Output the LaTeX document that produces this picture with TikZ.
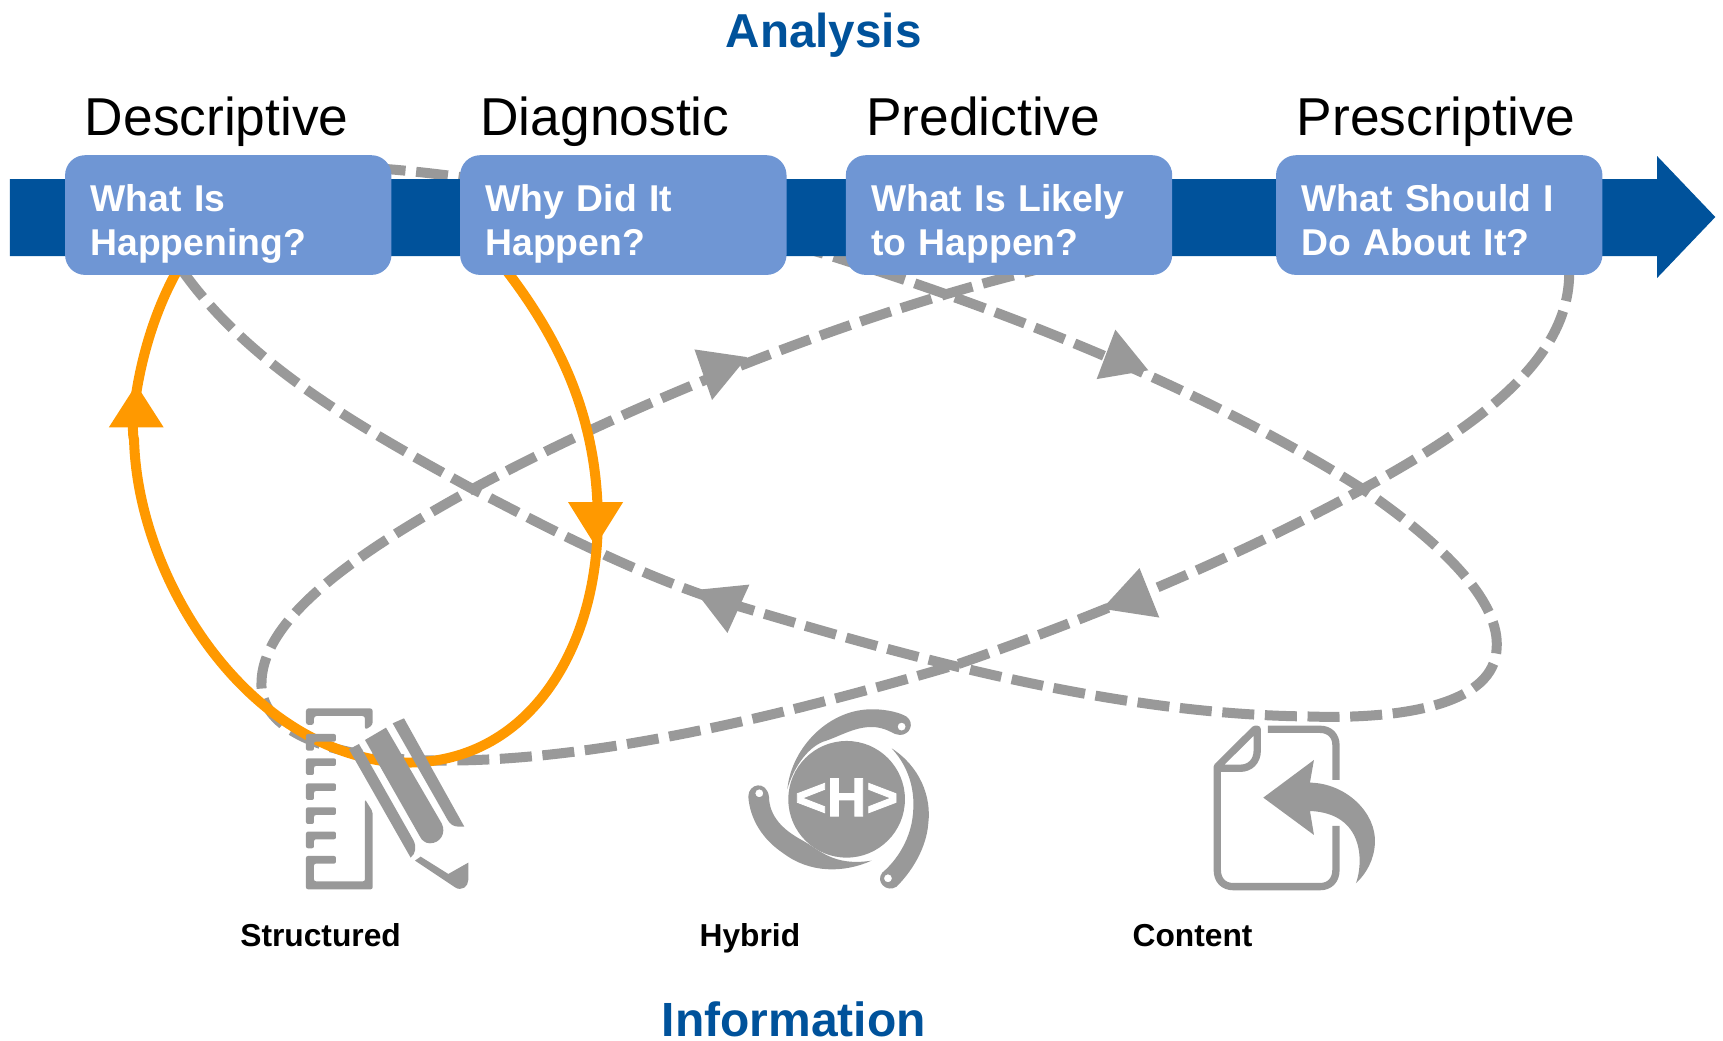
\documentclass[tikz,border=0pt]{standalone}
\usepackage{fontspec}
\setmainfont{Liberation Sans}
\newfontfamily\boxfont{Liberation Sans}[WordSpace=0.75]
\newfontfamily\codefont{Liberation Sans}[BoldFeatures={FakeBold=1.5}]
\pgfdeclarelayer{back}
\pgfdeclarelayer{barlayer}
\pgfsetlayers{back,barlayer,main}
\definecolor{barblue}{RGB}{0,82,155}
\definecolor{boxblue}{RGB}{111,150,212}
\definecolor{icongray}{RGB}{153,153,153}
\definecolor{flow}{RGB}{255,153,0}
\newcommand\tophold{\rule{0pt}{35.2pt}}
\newcommand\bothold{\rule[-8pt]{0pt}{8pt}}
\tikzset{
  qbox/.style={fill=boxblue,rounded corners=15pt,minimum width=244.8pt,minimum height=89.8pt,text width=244.8pt-2*19pt,inner xsep=19pt,inner ysep=0pt,align=left,text=white,font=\boxfont\fontsize{28}{33}\selectfont\bfseries,anchor=north west},
  head/.style={anchor=base west,inner sep=0pt,font=\fontsize{40}{40}\selectfont},
  title/.style={anchor=base,inner sep=0pt,text=barblue,font=\fontsize{35.7}{36}\selectfont\bfseries},
  kind/.style={anchor=base west,inner sep=0pt,font=\fontsize{23.8}{24}\selectfont\bfseries},
  grayflow/.style={draw=icongray,line width=7.5pt,dash pattern=on 24pt off 8pt},
  orangeflow/.style={draw=flow,line width=7.5pt},
  grayhead/.style={fill=icongray},
  orangehead/.style={fill=flow},
  icon/.style={fill=icongray},
  iconline/.style={draw=icongray,line width=5.5pt,line join=round},
}
\begin{document}
\begin{tikzpicture}[x=.8242pt,y=-.8242pt]
\useasboundingbox (0,0) rectangle (1568,947);
% boxes
\node[qbox] (q1) at (59,141) {\tophold What Is\\Happening?\bothold};
\node[qbox] (q2) at (418.5,141) {\tophold Why Did It\\Happen?\bothold};
\node[qbox] (q3) at (769.5,141) {\tophold What Is Likely\\to Happen?\bothold};
\node[qbox] (q4) at (1161,141) {\tophold What Should I\\Do About It?\bothold};
% headings
\node[title] (analysis) at (749.5,43) {Analysis};
\node[head] (h1) at (77,123) {Descriptive};
\node[head] (h2) at (437,123) {Diagnostic};
\node[head] (h3) at (788,123) {Predictive};
\node[head] (h4) at (1180,123) {Prescriptive};
\node[kind] (k1) at (218.5,861) {Structured};
\node[kind] (k2) at (636.5,861) {Hybrid};
\node[kind] (k3) at (1030.5,861) {Content};
\node[title,font=\fontsize{36}{36}\selectfont\bfseries] (information) at (722.5,943) {Information};
% bar
\begin{pgfonlayer}{barlayer}
\fill[barblue] (9,163) -- (1508,163) -- (1508,142) -- (1561,197.5) -- (1508,253) -- (1508,233) -- (9,233) -- cycle;
\end{pgfonlayer}
% connectors
\begin{pgfonlayer}{back}
\coordinate (a1) at (340,153);
\coordinate (a2) at (165,245);
\coordinate (a3) at (1428,245);
\coordinate (a4) at (945,245);
\coordinate (o1) at (162,245);
\coordinate (o2) at (460,245);
\draw[grayflow] (a1) .. controls (450,160) and (650,198) .. (772,238) .. controls (905,280) and (1090,350) .. (1240,445) .. controls (1320,500) and (1365,550) .. (1362,590) .. controls (1360,640) and (1280,655) .. (1190,652) .. controls (1000,650) and (800,590) .. (650,545) .. controls (560,515) and (470,465) .. (430,445) .. controls (320,385) and (225,330) .. (a2);
\draw[grayflow] (a3) .. controls (1430,320) and (1360,380) .. (1240,445) .. controls (1130,505) and (1000,560) .. (870,605) .. controls (700,655) and (530,695) .. (390,692) .. controls (300,690) and (235,665) .. (238,620) .. controls (240,560) and (330,500) .. (430,445) .. controls (560,375) and (760,290) .. (a4);
\draw[orangeflow] (o1) .. controls (125,310) and (118,390) .. (122,400) .. controls (125,520) and (215,670) .. (345,692) .. controls (470,710) and (545,600) .. (544,470) .. controls (543,380) and (510,310) .. (o2);
\fill[orangehead] (124,350) -- (149,389) -- (99,389) -- cycle;
\fill[orangehead] (542,497) -- (517,457) -- (567,457) -- cycle;
\fill[grayhead] (1045,337) -- (1015,300) -- (998,345) -- cycle;
\fill[grayhead] (680,325) -- (632,318) -- (648,364) -- cycle;
\fill[grayhead] (632,537) -- (682,532) -- (662,576) -- cycle;
\fill[grayhead] (1003,554) -- (1037,517) -- (1055,562) -- cycle;
\end{pgfonlayer}
% structured icon
\begin{scope}[shift={(254.8,627.9)},x=.25pt,y=-.25pt]
\fill[icon,rounded corners=2pt] (78,105) -- (78,55) -- (278,55) -- (278,105) -- (255,120) -- (255,78) -- (102,78) -- (102,105) -- cycle;
\foreach \yy in {132,205,280,352,425} {
  \fill[icon,rounded corners=1.5pt] (78,\yy) -- (168,\yy) -- (168,\yy+23) -- (102,\yy+23) -- (102,\yy+50) -- (78,\yy+50) -- cycle;
}
\fill[icon,rounded corners=1.5pt] (78,498) -- (168,498) -- (168,521) -- (102,521) -- (102,574) -- (255,574) -- (255,328) -- (278,365) -- (278,598) -- (78,598) -- cycle;
\fill[icon] (255,150) -- (318,113) -- (485,400) .. controls (500,430) and (480,460) .. (450,460) .. controls (435,460) and (425,450) .. (420,440) -- cycle;
\fill[icon] (338,100) -- (372,85) -- (553,410) -- (535,410) .. controls (520,410) and (510,402) .. (503,390) -- cycle;
\fill[icon] (207,178) -- (237,162) -- (400,450) .. controls (410,470) and (408,490) .. (392,503) -- cycle;
\fill[icon] (405,512) -- (422,500) -- (505,552) -- (565,518) -- (565,570) .. controls (565,590) and (545,605) .. (525,592) -- cycle;
\end{scope}
% hybrid icon
\begin{scope}[shift={(664.3,627.9)},x=.25pt,y=-.25pt]
\fill[icon] (350,328) circle[radius=175];
\node[text=white,inner sep=0pt,font=\codefont\fontsize{41}{41}\selectfont\bfseries] (hcode) at (350,322) {<H>};
\fill[icon,even odd rule] (172,298) .. controls (185,170) and (300,55) .. (430,58) .. controls (470,58) and (510,68) .. (530,80) .. controls (555,100) and (540,135) .. (510,135) .. controls (490,135) and (480,118) .. (440,112) .. controls (380,105) and (330,140) .. (280,155) .. controls (230,175) and (190,235) .. (172,298) -- cycle (515,110) circle[radius=12];
\fill[icon,even odd rule] (485,175) .. controls (570,230) and (605,320) .. (595,400) .. controls (590,470) and (550,540) .. (500,590) .. controls (470,610) and (435,575) .. (457,548) .. controls (490,520) and (530,470) .. (545,400) .. controls (560,320) and (545,240) .. (485,175) -- cycle (474,565) circle[radius=12];
\fill[icon,even odd rule] (425,512) .. controls (340,550) and (240,550) .. (160,490) .. controls (100,450) and (60,390) .. (55,320) .. controls (55,280) and (110,270) .. (117,320) .. controls (118,380) and (160,420) .. (215,450) .. controls (270,480) and (310,530) .. (425,512) -- cycle (88,310) circle[radius=12];
\end{scope}
% content icon
\begin{scope}[shift={(1082.9,637)},x=.25pt,y=-.25pt]
\draw[iconline] (234,88) -- (390,88) .. controls (420,88) and (438,108) .. (438,135) -- (438,240);
\draw[iconline] (438,378) -- (438,510) .. controls (438,540) and (420,560) .. (390,560) -- (130,560) .. controls (100,560) and (82,540) .. (82,510) -- (82,200) -- (195,88) -- (202,88) -- (202,150) .. controls (202,185) and (180,205) .. (150,205) -- (82,205);
\fill[icon] (220,293) -- (372,180) -- (360,248) .. controls (470,250) and (560,340) .. (555,430) .. controls (552,480) and (530,520) .. (498,550) .. controls (520,490) and (525,340) .. (360,333) -- (372,405) -- cycle;
\end{scope}
\end{tikzpicture}
\end{document}
